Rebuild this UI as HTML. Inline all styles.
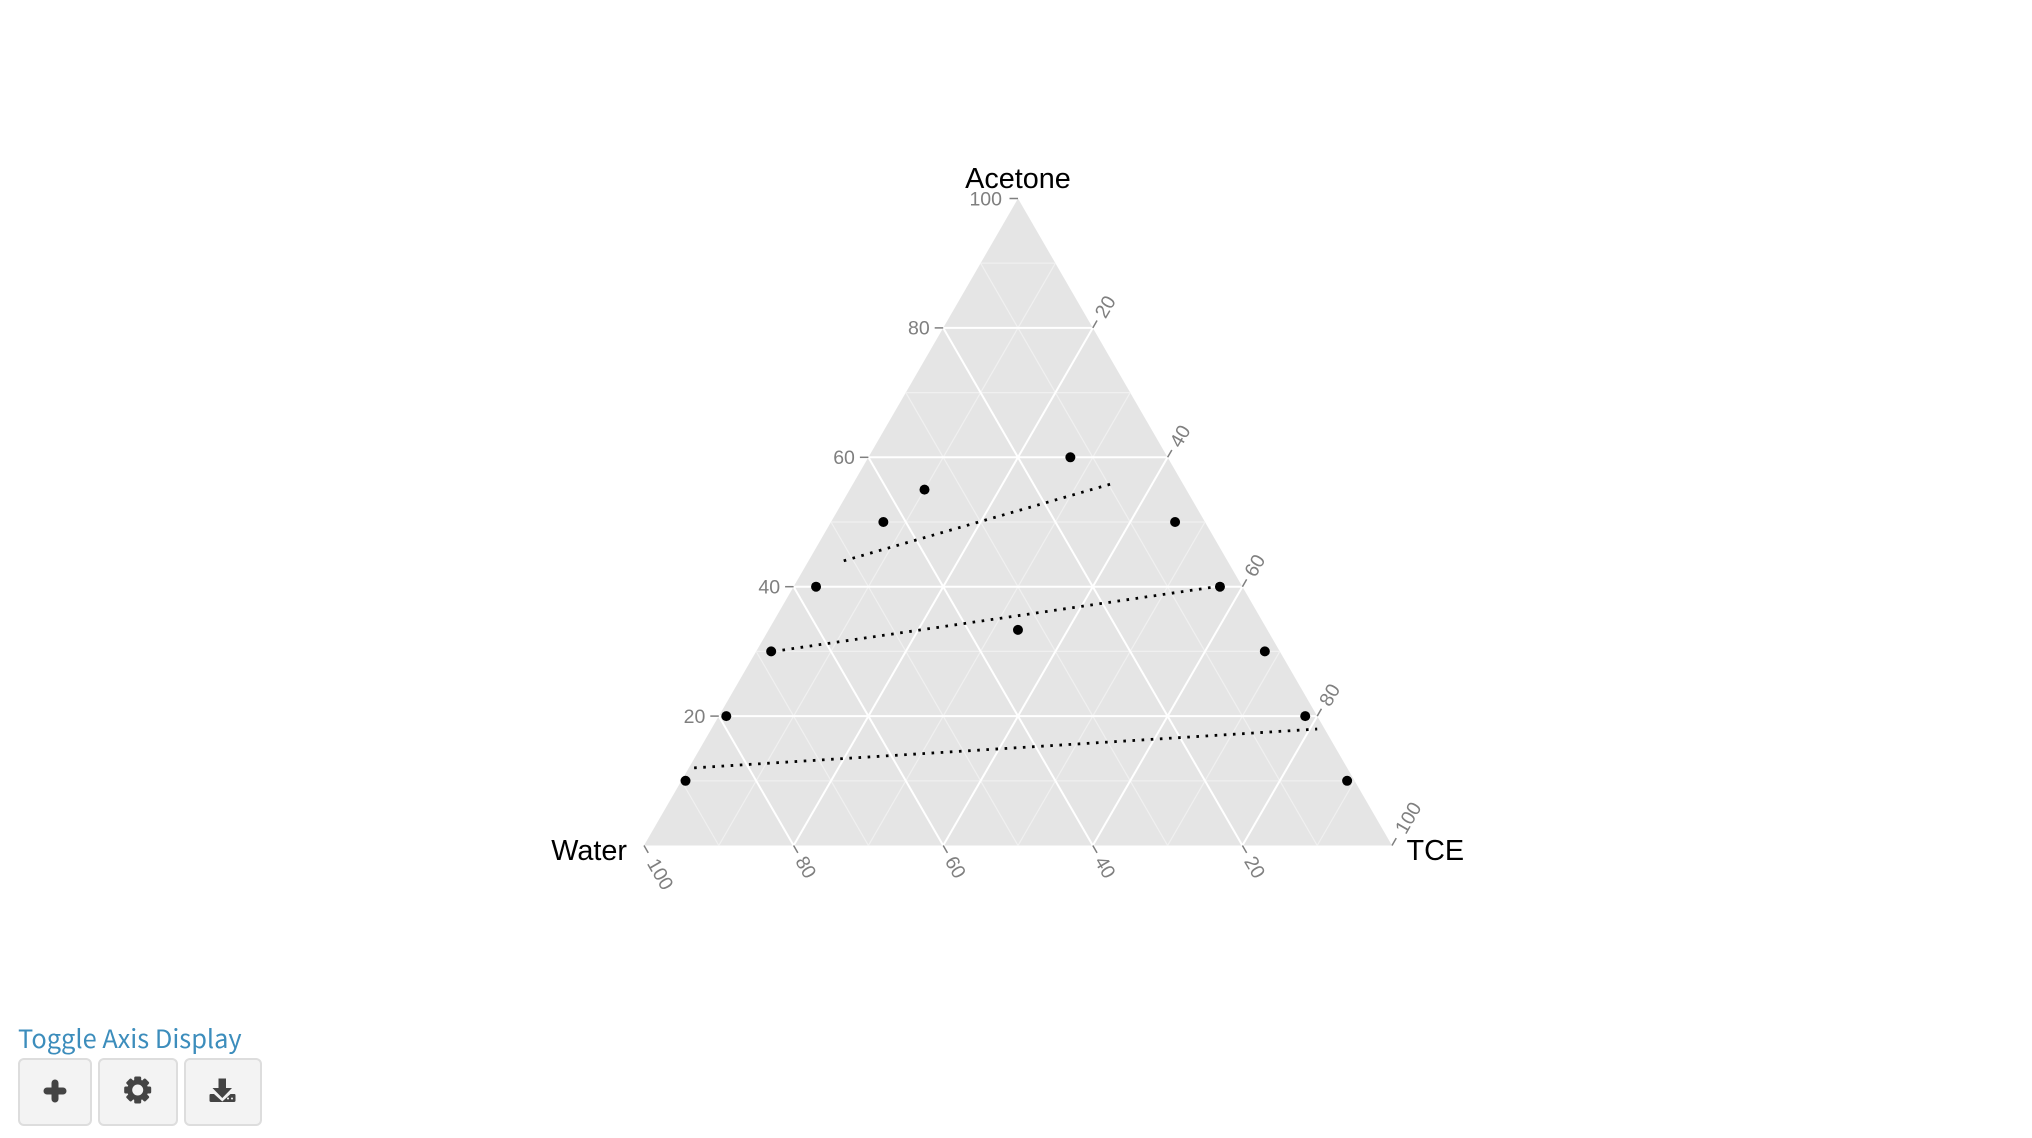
<!DOCTYPE html>
<html lang="en">
<head>
<meta charset="utf-8">
<title>Ternary phase diagram: Acetone, Water, TCE</title>
<style>
html,body{margin:0;padding:0;background:#fff;width:2032px;height:1138px;overflow:hidden}
#chart{position:absolute;left:0;top:0;width:2032px;height:1138px}
#toggle{position:absolute;left:18px;top:1023px;font:25.4px/1.2 "Noto Sans CJK JP","Liberation Sans",sans-serif;color:#3c8dbc;text-decoration:none;white-space:nowrap;cursor:pointer;letter-spacing:0}
.btn{position:absolute;top:1058px;height:68px;box-sizing:border-box;background:#f3f3f3;border:2px solid #ddd;border-radius:6px;padding:0;margin:0;cursor:pointer}
.btn svg{position:absolute;left:-2px;top:-2px;display:block}
</style>
</head>
<body>
<svg id="chart" viewBox="0 0 2032 1138" xmlns="http://www.w3.org/2000/svg"></svg>

<a id="toggle">Toggle Axis Display</a>

<button class="btn" style="left:18px;width:74px" aria-label="Add">
  <svg width="74" height="68" viewBox="0 0 74 68">
    <path d="M29 33H45M37 25V41" stroke="#444" stroke-width="7" stroke-linecap="round" fill="none"/>
  </svg>
</button>
<button class="btn" style="left:98px;width:80px" aria-label="Settings">
  <svg width="80" height="68" viewBox="0 0 80 68">
    <g fill="#444">
      <rect x="36.200" y="18.500" width="7" height="27" rx="1.500"/>
      <rect x="36.200" y="18.500" width="7" height="27" rx="1.500" transform="rotate(45 39.700 32)"/>
      <rect x="36.200" y="18.500" width="7" height="27" rx="1.500" transform="rotate(90 39.700 32)"/>
      <rect x="36.200" y="18.500" width="7" height="27" rx="1.500" transform="rotate(135 39.700 32)"/>
    </g>
    <circle cx="39.700" cy="32" r="8" fill="#f3f3f3" stroke="#444" stroke-width="5"/>
  </svg>
</button>
<button class="btn" style="left:184px;width:78px" aria-label="Download">
  <svg width="78" height="68" viewBox="0 0 78 68">
    <path d="M34.500 20.500H42V30H48L38.300 40L28.500 30H34.500Z" fill="#444"/>
    <path d="M26.500 36H30L38.300 43.500L46.500 36H50.500Q51.500 36 51.500 37.500V42.500Q51.500 44 50 44H27Q25.500 44 25.500 42.500V37.500Q25.500 36 26.500 36Z" fill="#444"/>
    <circle cx="44" cy="40.500" r="1" fill="#f3f3f3"/>
    <circle cx="48" cy="40.500" r="1" fill="#f3f3f3"/>
  </svg>
</button>

<script>
// ---- Data ----
const pointAcetone = [10, 20, 30, 40, 50, 55, 60, 33.33, 50, 40, 30, 20, 10];
const pointTCE     = [0.55, 1, 2, 3, 7, 10, 27, 33.33, 46, 57, 68, 78.4, 89];
const tieStartAcetone = [44, 30, 12];
const tieStartTCE     = [4.7, 2.3, 0.7];
const tieEndAcetone   = [56, 40, 18];
const tieEndTCE       = [34.8, 56.5, 81];
const majorTicks = [20, 40, 60, 80];
const minorTicks = [10, 30, 50, 70, 90];
const acetoneTickLabels = [20, 40, 60, 80, 100];
const tceTickLabels = [20, 40, 60, 80, 100];
const waterTickLabels = [100, 80, 60, 40, 20];
const axisTitles = ['Acetone', 'Water', 'TCE'];

// ---- Axis functions ----
const X0 = 644, W = 748, Y0 = 845.5, H = 647;
function sx(acetone, tce) { return X0 + W * (tce + acetone / 2) / 100; }
function sy(acetone) { return Y0 - H * acetone / 100; }

const svg = document.getElementById('chart');
const NS = 'http://www.w3.org/2000/svg';
function make(tag, attrs) {
  const el = document.createElementNS(NS, tag);
  for (const k in attrs) el.setAttribute(k, attrs[k]);
  svg.appendChild(el);
  return el;
}

// ---- Panel ----
const panel = make('polygon', {
  points: [sx(0,0)+','+sy(0), sx(100,0)+','+sy(100), sx(0,100)+','+sy(0)].join(' '),
  fill: '#e5e5e5'
});



// ---- Grid ----
function gridFamily(v, stroke, width, kind) {
  const segments = [
    [v, 0, v, 100 - v],           // constant Acetone
    [0, v, 100 - v, v],           // constant TCE
    [0, 100 - v, 100 - v, 0]      // constant Water
  ];
  const families = ['acetone', 'tce', 'water'];
  segments.forEach(function (s, i) {
    const ln = make('line', {
      x1: sx(s[0], s[1]), y1: sy(s[0]),
      x2: sx(s[2], s[3]), y2: sy(s[2]),
      stroke: stroke, 'stroke-width': width
    });
    
    
  });
}
minorTicks.forEach(function (v) { gridFamily(v, '#f0f0f0', 1.2, 'minor'); });
majorTicks.forEach(function (v) { gridFamily(v, '#ffffff', 2, 'major'); });

// ---- Ticks and tick labels ----
const TICK = 8.5, GREY = '#7f7f7f', LABEL = 19.5;
function tickText(str, x, y, rot, anchor) {
  const t = make('text', {
    x: x, y: y, fill: GREY,
    'font-family': '"Liberation Sans", sans-serif',
    'font-size': LABEL, 'text-anchor': anchor, dy: '0.35em'
  });
  if (rot) t.setAttribute('transform', 'rotate(' + rot + ' ' + x + ' ' + y + ')');
  t.textContent = str;
  return t;
}
function tickMark(x1, y1, x2, y2) {
  return make('line', { x1: x1, y1: y1, x2: x2, y2: y2, stroke: GREY, 'stroke-width': 1.5 });
}

acetoneTickLabels.forEach(function (v) {
  const x = sx(v, 0), y = sy(v);
  const m = tickMark(x - TICK, y, x, y);
  
  
  const t = tickText(String(v), x - (v === 100 ? 16 : 13.5), y, 0, 'end');
  
  
});

tceTickLabels.forEach(function (v) {
  // right edge: Water = 0, TCE = v, Acetone = 100 - v
  const x = sx(100 - v, v), y = sy(100 - v);
  const m = tickMark(x, y, x + TICK * 0.5, y - TICK * 0.866);
  
  
  const off = v === 100 ? 32 : 24.5;
  const t = tickText(String(v), x + off * 0.5, y - off * 0.866, -60, 'middle');
  
  
});

waterTickLabels.forEach(function (v) {
  // bottom edge: Acetone = 0, Water = v, TCE = 100 - v
  const x = sx(0, 100 - v), y = sy(0);
  const m = tickMark(x, y, x + TICK * 0.5, y + TICK * 0.866);
  
  
  const off = v === 100 ? 33 : 25;
  const t = tickText(String(v), x + off * 0.5, y + off * 0.866, 60, 'middle');
  
  
});

// ---- Tie lines ----
tieStartAcetone.forEach(function (_, i) {
  const ln = make('line', {
    x1: sx(tieStartAcetone[i], tieStartTCE[i]), y1: sy(tieStartAcetone[i]),
    x2: sx(tieEndAcetone[i], tieEndTCE[i]), y2: sy(tieEndAcetone[i]),
    stroke: '#000', 'stroke-width': 2.8, 'stroke-dasharray': '2.6 6.55'
  });
  
  
});

// ---- Points ----
pointAcetone.forEach(function (a, i) {
  const c = make('circle', { cx: sx(a, pointTCE[i]), cy: sy(a), r: 5, fill: '#000' });
  
  
});

// ---- Axis titles ----
const titleX = [1018, 627, 1406.5];
const titleY = [188, 860, 860];
const titleAnchor = ['middle', 'end', 'start'];
axisTitles.forEach(function (name, i) {
  const t = make('text', {
    x: titleX[i], y: titleY[i], fill: '#000',
    'font-family': '"Liberation Sans", sans-serif',
    'font-size': 28.8, 'text-anchor': titleAnchor[i]
  });
  t.textContent = name;
  
  
});
</script>
</body>
</html>
